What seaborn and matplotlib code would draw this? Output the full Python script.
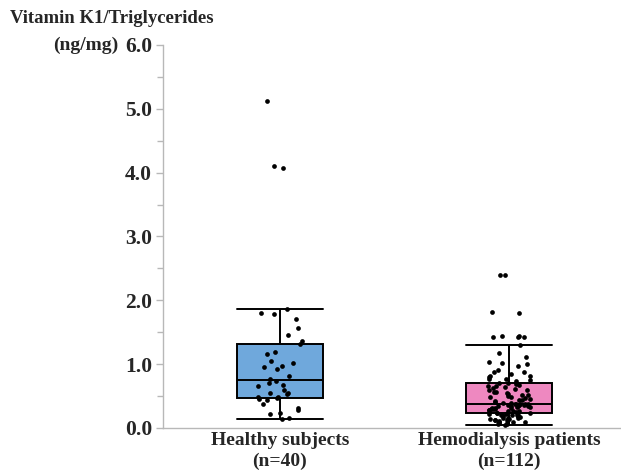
import numpy as np
import pandas as pd
import matplotlib
matplotlib.use("Agg")
import matplotlib.pyplot as plt
import seaborn as sns
from matplotlib.ticker import MultipleLocator

# values (ng/mg)
healthy = [0.14, 0.16, 0.22, 0.23, 0.28, 0.31, 0.38, 0.44, 0.46, 0.47,
           0.48, 0.48, 0.53, 0.55, 0.55, 0.60, 0.66, 0.67, 0.70, 0.74,
           0.76, 0.81, 0.92, 0.95, 0.97, 1.02, 1.05, 1.16, 1.19, 1.31,
           1.36, 1.45, 1.56, 1.70, 1.78, 1.80, 1.86, 4.08, 4.10, 5.13]
hemodialysis = [0.05, 0.06, 0.07, 0.08, 0.08, 0.09, 0.10, 0.10, 0.11, 0.12,
                0.12, 0.13, 0.14, 0.14, 0.15, 0.16, 0.16, 0.17, 0.18, 0.18,
                0.19, 0.20, 0.20, 0.21, 0.21, 0.22, 0.22, 0.23,
                0.23, 0.24, 0.24, 0.25, 0.26, 0.26, 0.27, 0.28, 0.28, 0.29,
                0.30, 0.30, 0.31, 0.31, 0.32, 0.33, 0.33, 0.34, 0.34, 0.35,
                0.35, 0.36, 0.36, 0.36, 0.37, 0.37, 0.37, 0.37,
                0.38, 0.39, 0.39, 0.41, 0.42, 0.44, 0.44, 0.45, 0.47, 0.48,
                0.48, 0.50, 0.51, 0.52, 0.54, 0.55, 0.56, 0.57, 0.59, 0.60,
                0.61, 0.62, 0.64, 0.65, 0.66, 0.68, 0.69, 0.70,
                0.70, 0.73, 0.75, 0.77, 0.77, 0.80, 0.81, 0.81, 0.84, 0.88,
                0.88, 0.91, 0.97, 1.00, 1.02, 1.03, 1.11, 1.17, 1.30,
                1.42, 1.42, 1.43, 1.44, 1.44, 1.80, 1.81, 2.40, 2.40]
groups = ["Healthy subjects\n(n=40)", "Hemodialysis patients\n(n=112)"]
box_colors = ["#6fa8dc", "#ee88c0"]

df = pd.DataFrame({
    "group": [groups[0]] * len(healthy) + [groups[1]] * len(hemodialysis),
    "value": healthy + hemodialysis,
})

sns.set_theme(style="white")
plt.rcParams["font.family"] = ["Liberation Serif", "DejaVu Serif"]
plt.rcParams["font.weight"] = "bold"

fig = plt.figure(figsize=(6.21, 4.70), dpi=100)
ax = fig.add_axes([0.2625, 0.0894, 0.7375, 0.8149])

sns.boxplot(data=df, x="group", y="value", hue="group", palette=box_colors,
            order=groups, width=0.375, showfliers=False, whis=1.5,
            saturation=1, linecolor="black", linewidth=1.4, capwidths=0.375,
            legend=False, ax=ax)
np.random.seed(3)
sns.stripplot(data=df, x="group", y="value", order=groups, color="black",
              size=3.4, jitter=0.1, ax=ax)

ax.set_xlim(-0.511, 1.49)
ax.set_ylim(0, 6.0)
ax.yaxis.set_minor_locator(MultipleLocator(0.5))
ax.set_yticks(np.arange(0, 6.01, 1.0))
ax.set_yticklabels([f"{v:.1f}" for v in np.arange(0, 6.01, 1.0)],
                   fontsize=15.5, fontweight="bold")
ax.tick_params(axis="y", which="both", direction="out", left=True,
               color="#b8b8b8", width=1, length=5, pad=3)
ax.tick_params(axis="y", which="minor", length=4)
ax.tick_params(axis="x", length=0, pad=3)
for lab in ax.get_xticklabels():
    lab.set_fontsize(14)
    lab.set_fontweight("bold")
    lab.set_linespacing(1.3)
ax.set_xlabel("")
ax.set_ylabel("")

for side in ["top", "right"]:
    ax.spines[side].set_visible(False)
for side in ["left", "bottom"]:
    ax.spines[side].set_color("#b8b8b8")
    ax.spines[side].set_linewidth(1)

fig.text(0.016, 0.96, "Vitamin K1/Triglycerides", fontsize=13.5,
         fontweight="bold", ha="left", va="center")
fig.text(0.19, 0.904, "(ng/mg)", fontsize=14, fontweight="bold",
         ha="right", va="center")

fig.savefig("out.png", dpi=100)
